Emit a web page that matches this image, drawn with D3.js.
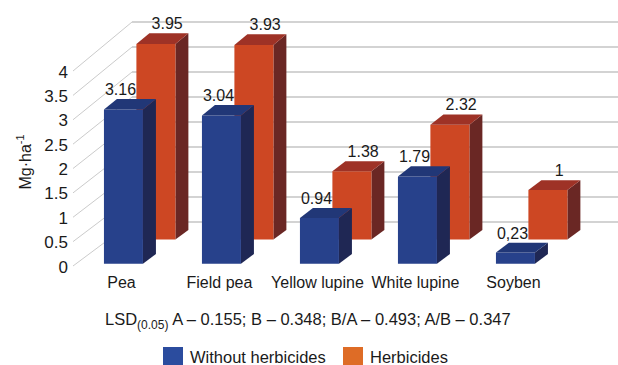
<!DOCTYPE html>
<html>
<head>
<meta charset="utf-8">
<script src="https://cdn.jsdelivr.net/npm/d3@7"></script>
<style>
body { margin: 0; background: #fff; }
text { font-family: "Liberation Sans", Arial, sans-serif; fill: #1a1a1a; }
</style>
</head>
<body>
<div id="chart"></div>
<script>
var crops = ["Pea", "Field pea", "Yellow lupine", "White lupine", "Soyben"];
var withoutHerb = [3.16, 3.04, 0.94, 1.79, 0.23];
var withHerb = [3.95, 3.93, 1.38, 2.32, 1];
var withoutLabels = ["3.16", "3.04", "0.94", "1.79", "0,23"];
var withLabels = ["3.95", "3.93", "1.38", "2.32", "1"];
var yTicks = [0, 0.5, 1, 1.5, 2, 2.5, 3, 3.5, 4];
var yTickLabels = ["0", "0.5", "1", "1.5", "2", "2.5", "3", "3.5", "4"];
var seriesNames = ["Without herbicides", "Herbicides"];

var width = 618, height = 365;

var svg = d3.select("#chart")
  .append("svg")
  .attr("width", width)
  .attr("height", height);

// band for the bar fronts, 3d depth goes up-right
var x = d3.scaleBand()
  .domain(crops)
  .range([101, 532])
  .paddingInner(0.602)
  .paddingOuter(0);

var yFront = d3.scaleLinear().domain([0, 4]).range([266, 71]);
var yBack = d3.scaleLinear().domain([0, 4]).range([222, 22]);
var wallLeft = 73, wallDepth = 59, wallRight = 618;

function proj(px, v, z) {
  return [px + z * wallDepth, yFront(v) + z * (yBack(v) - yFront(v))];
}

function poly(g, pts, fill) {
  g.append("polygon")
    .attr("points", pts.map(function (p) { return p.join(","); }).join(" "))
    .attr("fill", fill);
}

// back wall grid
svg.append("g")
  .selectAll("line")
  .data(yTicks)
  .enter()
  .append("line")
  .attr("x1", function (d) { return proj(wallLeft, d, 1)[0]; })
  .attr("y1", function (d) { return proj(wallLeft, d, 1)[1]; })
  .attr("x2", wallRight)
  .attr("y2", function (d) { return yBack(d); })
  .attr("stroke", "#c4c4c4")
  .attr("stroke-width", 1.3);

// side wall grid
svg.append("g")
  .selectAll("line")
  .data(yTicks)
  .enter()
  .append("line")
  .attr("x1", function (d) { return proj(wallLeft, d, 0)[0]; })
  .attr("y1", function (d) { return proj(wallLeft, d, 0)[1]; })
  .attr("x2", function (d) { return proj(wallLeft, d, 1)[0]; })
  .attr("y2", function (d) { return proj(wallLeft, d, 1)[1]; })
  .attr("stroke", "#cbcbcb")
  .attr("stroke-width", 1);

// tick labels
svg.append("g")
  .selectAll("text")
  .data(yTicks)
  .enter()
  .append("text")
  .attr("x", 68)
  .attr("y", function (d) { return yFront(d) + 1; })
  .attr("text-anchor", "end")
  .attr("dominant-baseline", "central")
  .style("font-size", "17px")
  .text(function (d, i) { return yTickLabels[i]; });

var title = svg.append("text")
  .attr("transform", "translate(31,162) rotate(-90)")
  .attr("text-anchor", "middle")
  .style("font-size", "16px");
title.append("tspan").text("Mg·ha");
title.append("tspan").attr("dy", -7).style("font-size", "11px").text("-1");

var series = [
  { values: withHerb, labels: withLabels, z0: 0.6, z1: 0.82, labelZ: 0.79,
    front: "#cd4723", top: "#9e3226", side: "#6a2724" },
  { values: withoutHerb, labels: withoutLabels, z0: 0.05, z1: 0.27, labelZ: 0,
    front: "#27418b", top: "#213777", side: "#1f2754" }
];

var bw = x.bandwidth();

series.forEach(function (s) {
  var g = svg.append("g");
  crops.forEach(function (c, i) {
    var x0 = x(c), x1 = x(c) + bw, v = s.values[i];
    poly(g, [proj(x1, 0, s.z0), proj(x1, 0, s.z1), proj(x1, v, s.z1), proj(x1, v, s.z0)], s.side);
    poly(g, [proj(x0, 0, s.z0), proj(x1, 0, s.z0), proj(x1, v, s.z0), proj(x0, v, s.z0)], s.front);
    poly(g, [proj(x0, v, s.z0), proj(x1, v, s.z0), proj(x1, v, s.z1), proj(x0, v, s.z1)], s.top);
    g.append("text")
      .attr("x", proj(x0 + bw / 2, v, s.labelZ)[0])
      .attr("y", proj(x0, v, s.z1)[1] - 4)
      .attr("text-anchor", "middle")
      .style("font-size", "16px")
      .text(s.labels[i]);
  });
});

// category labels
svg.append("g")
  .selectAll("text")
  .data(crops)
  .enter()
  .append("text")
  .attr("x", function (d) { return proj(x(d) + bw / 2, 0, 0.05)[0] - 2; })
  .attr("y", 288)
  .attr("text-anchor", "middle")
  .style("font-size", "16px")
  .text(function (d) { return d; });

var lsd = svg.append("text")
  .attr("x", 105)
  .attr("y", 325)
  .style("font-size", "16.5px");
lsd.append("tspan").text("LSD");
lsd.append("tspan").attr("dy", 4).style("font-size", "12px").text("(0.05)");
lsd.append("tspan").attr("dy", -4).text(" A – 0.155; B – 0.348; B/A – 0.493; A/B – 0.347");

// legend
var legendX = [163, 343];
var legendColors = ["#2b4c9e", "#de6c26"];
var legend = svg.append("g");
seriesNames.forEach(function (n, i) {
  legend.append("rect")
    .attr("x", legendX[i])
    .attr("y", 347)
    .attr("width", 20)
    .attr("height", 20)
    .attr("fill", legendColors[i]);
  legend.append("text")
    .attr("x", legendX[i] + 27)
    .attr("y", 363)
    .style("font-size", "16.5px")
    .text(n);
});
</script>
</body>
</html>
